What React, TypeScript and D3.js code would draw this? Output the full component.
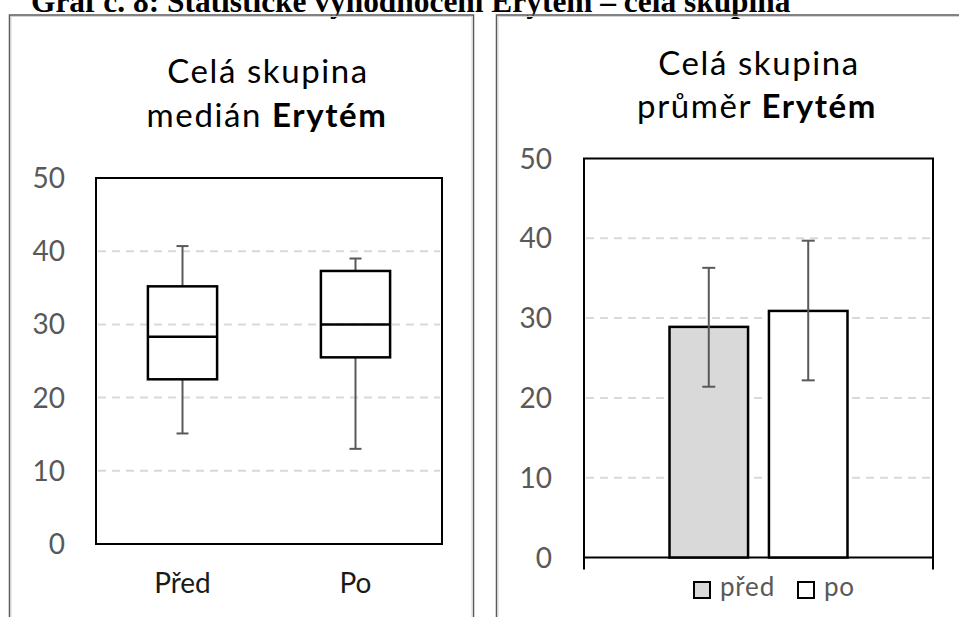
import React from "react";
import * as d3 from "d3";

// box plot (medián)
const boxCategories = ["Před", "Po"];
const whiskerLow = [15.1, 13.0];
const quartile1 = [22.5, 25.5];
const medians = [28.3, 30.0];
const quartile3 = [35.2, 37.3];
const whiskerHigh = [40.7, 39.0];

// bar chart (průměr)
const barSeries = ["před", "po"];
const means = [28.9, 30.9];
const errLow = [21.4, 22.2];
const errHigh = [36.3, 39.7];

const yTicks = [0, 10, 20, 30, 40, 50];

const FONT = "Lato, 'Open Sans', sans-serif";
const GRAY = "#595959";
const GRID = "#d9d9d9";

const App = () => {
  // left panel scales
  const xBox = d3.scaleBand().domain(boxCategories).range([96, 442]);
  const yBox = d3.scaleLinear().domain([0, 50]).range([544, 178]);
  const boxW = xBox.bandwidth() * 0.4;
  const capW = 12;

  // right panel scales
  const plotL = 584;
  const plotR = 933;
  const groupPad = (plotR - plotL) * 0.245;
  const xBar = d3
    .scaleBand()
    .domain(barSeries)
    .range([plotL + groupPad, plotR - groupPad])
    .paddingInner(0.21);
  const yBar = d3.scaleLinear().domain([0, 50]).range([557.5, 158.5]);
  const barFill = d3.scaleOrdinal<string>().domain(barSeries).range(["#d9d9d9", "#ffffff"]);

  const titleStyle = { letterSpacing: "1.6px" };

  return (
    <svg
      width={959}
      height={617}
      style={{ position: "absolute", left: 0, top: 0, background: "#fff" }}
    >
      {/* document caption, cut off at the top */}
      <text
        x={31}
        y={12}
        fontFamily="'Liberation Serif', 'Times New Roman', serif"
        fontWeight="bold"
        fontSize={31.4}
        fill="#000"
      >
        Graf č. 8: Statistické vyhodnocení Erytém – celá skupina
      </text>

      {/* panel frames */}
      <rect x={9.5} y={15} width={464} height={640} fill="none" stroke="#5a5a5a" strokeWidth={1.5} />
      <rect x={11} y={16.5} width={461} height={640} fill="none" stroke="#d4d4d4" strokeWidth={1} />
      <rect x={496.5} y={15} width={500} height={640} fill="none" stroke="#5a5a5a" strokeWidth={1.5} />
      <rect x={498} y={16.5} width={500} height={640} fill="none" stroke="#d4d4d4" strokeWidth={1} />

      {/* left panel: box plot */}
      <g fontFamily={FONT}>
        <text x={268} y={83} textAnchor="middle" fontSize={33} fill="#000" style={titleStyle}>
          Celá skupina
        </text>
        <text x={267} y={126.5} textAnchor="middle" fontSize={33} fill="#000" style={titleStyle}>
          medián <tspan fontWeight="bold">Erytém</tspan>
        </text>

        {yTicks.map((t) => (
          <g key={t}>
            {t > 0 && t < 50 && (
              <line
                x1={98}
                x2={440}
                y1={yBox(t)}
                y2={yBox(t)}
                stroke={GRID}
                strokeWidth={2}
                strokeDasharray="8,6"
              />
            )}
            <text x={65} y={yBox(t) + 10} textAnchor="end" fontSize={28} fill={GRAY}>
              {t}
            </text>
          </g>
        ))}

        <rect
          x={96}
          y={yBox(50)}
          width={442 - 96}
          height={yBox(0) - yBox(50)}
          fill="none"
          stroke="#000"
          strokeWidth={2}
        />

        {boxCategories.map((c, i) => {
          const cx = xBox(c)! + xBox.bandwidth() / 2;
          return (
            <g key={c}>
              <line x1={cx} x2={cx} y1={yBox(whiskerHigh[i])} y2={yBox(quartile3[i])} stroke={GRAY} strokeWidth={2} />
              <line x1={cx} x2={cx} y1={yBox(quartile1[i])} y2={yBox(whiskerLow[i])} stroke={GRAY} strokeWidth={2} />
              <line x1={cx - capW / 2} x2={cx + capW / 2} y1={yBox(whiskerHigh[i])} y2={yBox(whiskerHigh[i])} stroke={GRAY} strokeWidth={2} />
              <line x1={cx - capW / 2} x2={cx + capW / 2} y1={yBox(whiskerLow[i])} y2={yBox(whiskerLow[i])} stroke={GRAY} strokeWidth={2} />
              <rect
                x={cx - boxW / 2}
                y={yBox(quartile3[i])}
                width={boxW}
                height={yBox(quartile1[i]) - yBox(quartile3[i])}
                fill="none"
                stroke="#000"
                strokeWidth={2.5}
              />
              <line x1={cx - boxW / 2} x2={cx + boxW / 2} y1={yBox(medians[i])} y2={yBox(medians[i])} stroke="#000" strokeWidth={2.5} />
              <text x={cx} y={593} textAnchor="middle" fontSize={28} fill="#1a1a1a">
                {c}
              </text>
            </g>
          );
        })}
      </g>

      {/* right panel: bar chart with error bars */}
      <g fontFamily={FONT}>
        <text x={759} y={75} textAnchor="middle" fontSize={33} fill="#000" style={titleStyle}>
          Celá skupina
        </text>
        <text x={757} y={118} textAnchor="middle" fontSize={33} fill="#000" style={titleStyle}>
          průměr <tspan fontWeight="bold">Erytém</tspan>
        </text>

        {yTicks.map((t) => (
          <g key={t}>
            {t > 0 && t < 50 && (
              <line
                x1={586}
                x2={931}
                y1={yBar(t)}
                y2={yBar(t)}
                stroke={GRID}
                strokeWidth={2}
                strokeDasharray="8,6"
              />
            )}
            <text x={552} y={yBar(t) + 10} textAnchor="end" fontSize={28} fill={GRAY}>
              {t}
            </text>
          </g>
        ))}

        {/* plot frame: top, sides, axis with end ticks */}
        <path
          d={`M${plotL},${yBar(0) + 12}V${yBar(50)}H${plotR}V${yBar(0) + 12}M${plotL},${yBar(0)}H${plotR}`}
          fill="none"
          stroke="#000"
          strokeWidth={2}
        />

        {barSeries.map((s, i) => {
          const x = xBar(s)!;
          const cx = x + xBar.bandwidth() / 2;
          return (
            <g key={s}>
              <rect
                x={x}
                y={yBar(means[i])}
                width={xBar.bandwidth()}
                height={yBar(0) - yBar(means[i])}
                fill={barFill(s)}
                stroke="#000"
                strokeWidth={2.5}
              />
              <line x1={cx} x2={cx} y1={yBar(errHigh[i])} y2={yBar(errLow[i])} stroke={GRAY} strokeWidth={2} />
              <line x1={cx - 6.5} x2={cx + 6.5} y1={yBar(errHigh[i])} y2={yBar(errHigh[i])} stroke={GRAY} strokeWidth={2} />
              <line x1={cx - 6.5} x2={cx + 6.5} y1={yBar(errLow[i])} y2={yBar(errLow[i])} stroke={GRAY} strokeWidth={2} />
            </g>
          );
        })}

        {/* legend */}
        {barSeries.map((s, i) => {
          const lx = i === 0 ? 693 : 797;
          return (
            <g key={s}>
              <rect x={lx + 1} y={582} width={16} height={16} fill={barFill(s)} stroke="#000" strokeWidth={2} />
              <text x={lx + 27} y={596} fontSize={26} fill={GRAY} style={{ letterSpacing: "0.8px" }}>
                {s}
              </text>
            </g>
          );
        })}
      </g>
    </svg>
  );
};

export default App;
